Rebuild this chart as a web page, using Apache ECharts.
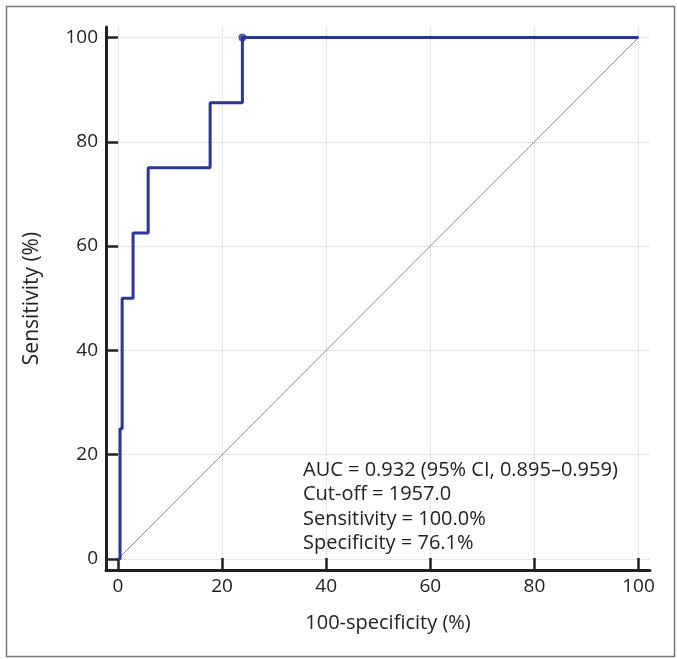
<!DOCTYPE html>
<html>
<head>
<meta charset="utf-8">
<script src="https://cdn.jsdelivr.net/npm/echarts@6/dist/echarts.min.js"></script>
<style>html,body{margin:0;padding:0;background:#fff}#c{width:677px;height:659px}</style>
</head>
<body>
<div id="c"></div>
<script>
// ROC vertices (x = 100-specificity %, y = sensitivity %)
var fpr = [0, 0.4, 0.8, 2.9, 5.8, 17.7, 23.9, 100];
var tpr = [0, 25, 50, 62.5, 75, 87.5, 100, 100];
var cutoffPoint = [23.9, 100];
var diagonal = [[0, 0], [100, 100]];
var xTicks = [0, 20, 40, 60, 80, 100];
var yTicks = [0, 20, 40, 60, 80, 100];
var annotation = [
  'AUC = 0.932 (95% CI, 0.895\u20130.959)',
  'Cut-off = 1957.0',
  'Sensitivity = 100.0%',
  'Specificity = 76.1%'
];
var xName = '100-specificity (%)';
var yName = 'Sensitivity (%)';

var FONT = '"Open Sans", "Noto Sans", sans-serif';
var rocData = fpr.map(function (x, i) { return [x, tpr[i]]; });

var chart = echarts.init(document.getElementById('c'), null, {renderer: 'canvas'});
chart.setOption({
  animation: false,
  backgroundColor: '#fff',
  textStyle: {fontFamily: FONT},
  graphic: [{
    type: 'rect', left: 4, top: 4, z: -10,
    shape: {width: 668, height: 650},
    style: {fill: 'none', stroke: '#777', lineWidth: 1.5}
  }],
  title: {
    text: annotation.join('\n'),
    left: 298, top: 453,
    textStyle: {fontFamily: FONT, fontSize: 20, fontWeight: 'normal', color: '#222', lineHeight: 24.4}
  },
  grid: {left: 106, right: 27, top: 27, bottom: 89, outerBoundsMode: 'none', containLabel: false},
  xAxis: {
    type: 'value', min: -2.3, max: 102.2,
    name: xName, nameLocation: 'middle', nameGap: 43,
    nameTextStyle: {fontFamily: FONT, fontSize: 20, color: '#222', padding: [0, 0, 0, 20]},
    axisLine: {show: true, onZero: false, lineStyle: {color: '#222', width: 3}},
    axisTick: {show: true, inside: true, length: 12, customValues: xTicks, lineStyle: {color: '#222', width: 2.5}},
    axisLabel: {customValues: xTicks, margin: 7, fontFamily: FONT, fontSize: 19, color: '#222'},
    splitLine: {show: true, lineStyle: {color: '#cfcfcf', type: 'dotted', width: 1}}
  },
  yAxis: {
    type: 'value', min: -2.1, max: 102,
    name: yName, nameLocation: 'middle', nameGap: 63,
    nameTextStyle: {fontFamily: FONT, fontSize: 21, color: '#222'},
    axisLine: {show: true, onZero: false, lineStyle: {color: '#222', width: 3}},
    axisTick: {show: true, inside: true, length: 12, customValues: yTicks, lineStyle: {color: '#222', width: 2.5}},
    axisLabel: {customValues: yTicks, margin: 8, fontFamily: FONT, fontSize: 19, color: '#222'},
    splitLine: {show: true, lineStyle: {color: '#cfcfcf', type: 'dotted', width: 1}}
  },
  series: [
    {
      type: 'line', data: diagonal, symbol: 'none', silent: true,
      lineStyle: {color: '#8a8a8a', width: 1}, z: 2
    },
    {
      type: 'line', data: rocData, step: 'end', symbol: 'none',
      lineStyle: {color: '#2b3497', width: 3}, z: 3
    },
    {
      type: 'scatter', data: [cutoffPoint], symbol: 'circle', symbolSize: 8,
      itemStyle: {color: '#2b3497'}, z: 4
    }
  ]
});
</script>
</body>
</html>
